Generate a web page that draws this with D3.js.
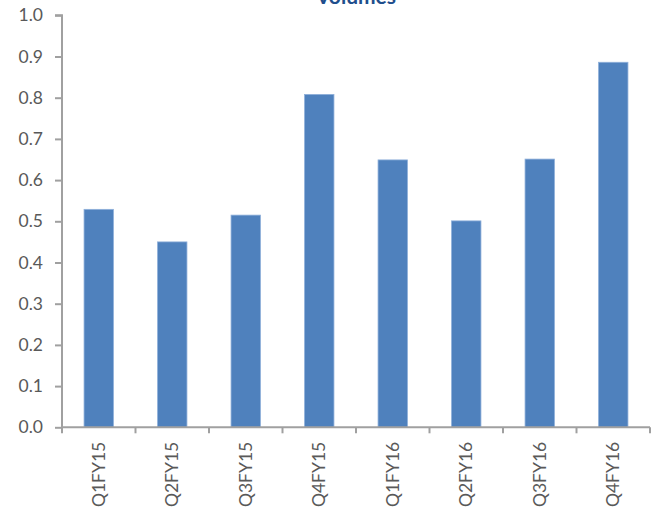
<!DOCTYPE html>
<html>
<head>
<meta charset="utf-8">
<script src="https://cdn.jsdelivr.net/npm/d3@7"></script>
<style>
  html, body { margin: 0; padding: 0; background: #fff; }
  svg { display: block; }
  .tick text { font-family: Lato, "Open Sans", sans-serif; font-size: 17.5px; fill: #595959; }
</style>
</head>
<body>
<svg id="chart" width="652" height="512"></svg>
<script>
// Quarterly volumes
const quarters = ["Q1FY15", "Q2FY15", "Q3FY15", "Q4FY15", "Q1FY16", "Q2FY16", "Q3FY16", "Q4FY16"];
const volumes = [0.529, 0.450, 0.515, 0.808, 0.649, 0.501, 0.651, 0.886];
const yTicks = [0, 0.1, 0.2, 0.3, 0.4, 0.5, 0.6, 0.7, 0.8, 0.9, 1.0];
const title = "Volumes";

const svg = d3.select("#chart");
const plotLeft = 62, plotRight = 650, plotTop = 15.3, plotBottom = 427.3;

const x = d3.scaleBand().domain(quarters).range([plotLeft, plotRight]).paddingInner(0.6).paddingOuter(0.3);
const y = d3.scaleLinear().domain([0, 1]).range([plotBottom, plotTop]);

// Bars
svg.append("g").selectAll("rect")
  .data(quarters.map((q, i) => ({ q, v: volumes[i] })))
  .join("rect")
  .attr("x", d => x(d.q))
  .attr("width", x.bandwidth())
  .attr("y", d => y(d.v))
  .attr("height", d => y(0) - y(d.v))
  .attr("fill", "#4F81BD")
  .attr("stroke", "#8FB0DA")
  .attr("stroke-width", 0.8);

// Y axis
const yAxis = svg.append("g")
  .attr("transform", `translate(${plotLeft},0)`)
  .call(d3.axisLeft(y).tickValues(yTicks).tickFormat(d3.format(".1f")).tickSize(7).tickPadding(12));
yAxis.selectAll("line, path").attr("stroke", "#A0A0A0").attr("stroke-width", 2);
yAxis.select("path").attr("d", `M-7,${plotTop}H0V${plotBottom}`);

// X axis with boundary ticks between categories
const xAxisG = svg.append("g").attr("transform", `translate(0,${plotBottom})`);
xAxisG.append("line")
  .attr("x1", plotLeft).attr("x2", plotRight)
  .attr("stroke", "#A0A0A0").attr("stroke-width", 2);
const step = x.step();
const bounds = d3.range(quarters.length + 1).map(i => plotLeft + i * step);
xAxisG.selectAll("line.b").data(bounds).join("line")
  .attr("class", "b")
  .attr("x1", d => d).attr("x2", d => d)
  .attr("y1", 0).attr("y2", 6)
  .attr("stroke", "#A0A0A0").attr("stroke-width", 2);
xAxisG.selectAll("g.tick").data(quarters).join("g")
  .attr("class", "tick")
  .attr("transform", d => `translate(${x(d) + x.bandwidth() / 2},14.5) rotate(-90)`)
  .append("text")
  .attr("text-anchor", "end")
  .attr("dy", "0.35em")
  .text(d => d);

// Title
svg.append("text")
  .attr("x", (plotLeft + plotRight) / 2)
  .attr("y", 4)
  .attr("text-anchor", "middle")
  .attr("font-family", "Lato, 'Open Sans', sans-serif")
  .attr("font-weight", "bold")
  .attr("font-size", 21)
  .attr("fill", "#1F4E8C")
  .text(title);
</script>
</body>
</html>
